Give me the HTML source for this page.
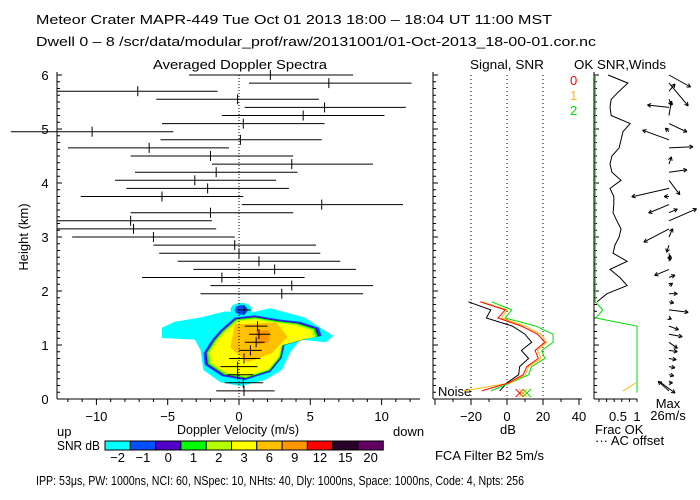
<!DOCTYPE html>
<html><head><meta charset="utf-8"><style>
html,body{margin:0;padding:0;background:#fff}
svg{display:block;font-family:"Liberation Sans",sans-serif}
text{font-size:13px;fill:#000}
</style></head><body>
<svg id="chart" width="700" height="500" viewBox="0 0 700 500" xmlns="http://www.w3.org/2000/svg">
<rect width="700" height="500" fill="#fff"/>
<text x="36" y="24" textLength="516" lengthAdjust="spacingAndGlyphs">Meteor Crater   MAPR-449   Tue Oct 01 2013 18:00 – 18:04 UT 11:00 MST</text>
<text x="36" y="46" textLength="560" lengthAdjust="spacingAndGlyphs">Dwell   0  –   8    /scr/data/modular_prof/raw/20131001/01-Oct-2013_18-00-01.cor.nc</text>
<text x="153" y="69" textLength="174" lengthAdjust="spacingAndGlyphs">Averaged Doppler Spectra</text>
<text x="470" y="69" textLength="74" lengthAdjust="spacingAndGlyphs">Signal, SNR</text>
<text x="574" y="69" textLength="92" lengthAdjust="spacingAndGlyphs">OK SNR,Winds</text>
<text x="28" y="237" transform="rotate(-90 28 237)" text-anchor="middle">Height (km)</text>
<text x="238" y="434" text-anchor="middle" textLength="122" lengthAdjust="spacingAndGlyphs">Doppler Velocity (m/s)</text>
<text x="57" y="436">up</text>
<text x="393" y="436">down</text>
<text x="57" y="450" textLength="43" lengthAdjust="spacingAndGlyphs">SNR dB</text>
<text x="508" y="434" text-anchor="middle">dB</text>
<text x="438" y="396">Noise</text>
<text x="595" y="434">Frac OK</text>
<text x="595" y="445">··· AC offset</text>
<text x="668" y="408" text-anchor="middle">Max</text>
<text x="668" y="420" text-anchor="middle">26m/s</text>
<text x="435" y="460" textLength="109" lengthAdjust="spacingAndGlyphs">FCA Filter B2   5m/s</text>
<text x="36" y="485" textLength="488" lengthAdjust="spacingAndGlyphs">IPP:  53μs,  PW: 1000ns,  NCI:  60,  NSpec: 10, NHts: 40,  Dly: 1000ns,  Space: 1000ns,  Code: 4,  Npts: 256</text>
<text x="570" y="85" style="fill:#f00">0</text>
<text x="570" y="100" style="fill:#ffbe00">1</text>
<text x="570" y="115" style="fill:#0d0">2</text>
<g id="g"></g>
</svg>
<script>
// ---- data ----
const spLeft  = [-1.6,-1.0,-0.8,-1.3,-0.7,0,0.4,0.7,0.4,null,-0.1,null,-2.7,-2.0,-6.8,-3.2,-4.3,-5.6,-6.0,-11.7,-12.8,-12.8,-7.6,0.2,-11.1,-7.9,-8.7,-7.3,-1.9,-7.6,-12.0,-5.5,-16.0,-5.4,-1.2,0.4,-5.8,-12.8,0.7,-3.5];
const spRight = [2.5,1.7,1.0,1.3,1.5,1.6,1.8,2.2,2.0,null,0.8,null,8.7,9.4,4.6,8.2,7.1,5.7,5.4,-0.3,-1.6,-1.9,3.8,11.5,0.3,3.5,2.6,4.1,9.4,3.8,-0.7,5.8,-4.6,6.0,10.2,11.7,5.6,-1.5,12.1,8.0];
const spMean  = [0.35,0.3,-0.1,-0.1,0.35,0.8,1.2,1.4,1.3,null,0.35,null,3.0,3.7,-1.2,2.5,1.4,0,-0.3,-6.0,-7.4,-7.6,-2.0,5.8,-5.4,-2.2,-3.1,-1.6,3.7,-2.0,-6.3,0.1,-10.3,0.3,4.5,6.0,-0.1,-7.1,6.3,2.2];
const sigBlack  = [-4,0,6.5,7,12,8,13.7,10,3,-11.5,-9,-21.5];
const sigRed    = [-14,1,9,11,17.4,15.6,21,17,8,-5,-1,-15];
const sigOrange = [-24,2,10,12,19,17,22,19,10,-3,0,-14];
const sigGreen  = [-9,2,12,13.7,21,19.3,25.6,25.6,16,-1,2.6,-8.5];
const noiseDb = [7,9,11];
const okSnr = [null,null,null,null,null,null,null,null,null,null,null,-0.05,0.21,0.74,0.55,0.29,0.74,0.37,0.42,0.53,0.58,0.47,0.37,0.39,0.39,0.29,0.58,0.34,0.29,0.34,0.53,0.58,0.63,0.82,0.32,0.29,0.32,0.53,0.76,0.24];
const fracOk = [1,1,1,1,1,1,1,1,1,-0.08,0.1,-0.1,-0.1,-0.1,-0.1,-0.1,-0.1,-0.1,-0.1,-0.1,-0.1,-0.1,-0.1,-0.1,-0.1,-0.1,-0.1,-0.1,-0.1,-0.1,-0.1,-0.1,-0.1,-0.1,-0.1,-0.1,-0.1,-0.1,-0.1,-0.1];
const fracAc = [0.63,0.97];
const windU = [-9,3,4,5,6,7,7,11,8,2,16,4,7,3,5,-12,1,1,-2,3,-21,23,7,-17,-4,-31,9,15,2,0,20,-22,-3,15,2,-18,2,5,16,18];
const windV = [8,0,-1,-1,-1,-1,-5,-2,-3,-1,-2,-1,0,2,2,-5,5,-6,-6,7,-11,10,3,-7,0,-7,-12,2,6,0,1,8,3,-7,12,2,-5,6,-19,-10];
const cyanPoly = [[-5.4,1.32],[-4.5,1.43],[-2.7,1.51],[-1.0,1.62],[0.8,1.6],[2.2,1.68],[3.6,1.58],[4.6,1.51],[5.7,1.32],[6.6,1.17],[6.1,1.05],[4.3,1.1],[3.6,0.87],[3.0,0.54],[1.8,0.35],[0.1,0.24],[-1.3,0.31],[-2.5,0.54],[-2.7,0.91],[-3.1,1.1],[-5.4,1.13]];
const innerPoly = [[-1.3,1.28],[-0.3,1.51],[1.1,1.55],[2.9,1.47],[4.3,1.43],[5.6,1.32],[5.8,1.17],[5.0,1.13],[3.2,1.0],[3.0,0.76],[2.2,0.5],[0.4,0.35],[-1.2,0.42],[-2.4,0.63],[-2.5,0.85],[-1.9,1.1]];
const innerScales = [1.0,0.97,0.94,0.91,0.87];
const orange6Poly = [[-0.3,1.38],[2.6,1.42],[3.4,1.15],[2.3,0.85],[0.6,0.68],[-0.6,0.95]];
const orange9Poly = [[1.2,1.27],[2.1,1.27],[2.1,1.05],[1.2,1.0]];
const cbLabels = ["-2","-1","0","1","2","3","6","9","12","15","20"];
const cbColors = ["#00ffff","#0050ff","#5000c8","#00ff00","#b4ff00","#ffff00","#ffc000","#ff9600","#ff0000","#280028","#640064"];
const vTicks = [-10,-5,0,5,10];
const hTicks = [0,1,2,3,4,5,6];
const dbTicks = [-20,0,20,40];
const fTicks = ["0.5","1"];

// ---- scales ----
const X=v=>239+14.26*v, Y=h=>399-54*h, HK=k=>0.15*(k+1), DB=d=>507+1.8*d, F=f=>599+38*f;
const NS="http://www.w3.org/2000/svg", G=document.getElementById('g');
function mk(t,a,name){const e=document.createElementNS(NS,t);for(const k in a)e.setAttribute(k,a[k]);


G.appendChild(e);return e;}
function ln(x1,y1,x2,y2,name,st){return mk('line',Object.assign({x1,y1,x2,y2,stroke:'#000','stroke-width':1},st||{}),name);}
function tx(x,y,s,name,anchor){const e=mk('text',{x,y,'text-anchor':anchor||'middle'},name);e.textContent=s;return e;}
function poly(pts,fill,name){return mk('polygon',{points:pts.map(p=>X(p[0])+','+Y(p[1])).join(' '),fill},name);}

poly(cyanPoly,cbColors[0],'snr-contour-cyan');
mk('ellipse',{cx:X(0.15),cy:Y(1.65),rx:14.26*0.75,ry:54*0.13,fill:cbColors[0]},'snr-blob-cyan');
mk('ellipse',{cx:X(0.15),cy:Y(1.65),rx:14.26*0.45,ry:54*0.09,fill:cbColors[1]},'snr-blob-blue');
innerScales.forEach((s,i)=>{poly(innerPoly.map(p=>[1.2+(p[0]-1.2)*s,0.95+(p[1]-0.95)*s]),cbColors[i+1],'snr-contour-'+i);});
poly(orange6Poly,cbColors[6],'snr-contour-6db');
poly(orange9Poly,cbColors[7],'snr-contour-9db');

ln(X(0),75,X(0),399,'zero-velocity-line',{'stroke-dasharray':'1,2'});
for(let k=0;k<spLeft.length;k++){if(spLeft[k]===null)continue;const y=Y(HK(k));
ln(X(spLeft[k]),y,X(spRight[k]),y,'spectrum-width-bar');
ln(X(spMean[k]),y-5,X(spMean[k]),y+5,'spectrum-mean-tick');}

ln(57,72,57,399,'y-axis');ln(57,399,420,399,'x-axis');
for(let h=0;h<=6.01;h+=0.125){const maj=Math.abs(h-Math.round(h))<0.01;ln(57,Y(h),maj?62:60,Y(h),'y-tick');}
hTicks.forEach(h=>tx(45,Y(h)+5,String(h),'y-tick-label'));
for(let v=-12;v<=12;v++){const maj=v%5===0;ln(X(v),399,X(v),maj?405:402,'x-tick');}
vTicks.forEach(v=>tx(X(v),421,v<0?'−'+(-v):String(v),'x-tick-label'));

ln(433,72,433,399,'signal-y-axis');ln(433,399,582,399,'signal-x-axis');
for(let h=0;h<=6.01;h+=0.125){const maj=Math.abs(h-Math.round(h))<0.01;ln(433,Y(h),maj?438:436,Y(h),'signal-y-tick');}
for(let d=-40;d<=40;d+=10){ln(DB(d),399,DB(d),d%20===0?405:402,'signal-x-tick');}
[-20,0,20].forEach(d=>ln(DB(d),75,DB(d),399,'signal-grid-line',{'stroke-dasharray':'1,3'}));
dbTicks.forEach(d=>tx(DB(d),421,d<0?'−'+(-d):String(d),'signal-tick-label'));
function sline(arr,col,name){mk('polyline',{points:arr.map((d,k)=>DB(d)+','+Y(HK(k))).join(' '),fill:'none',stroke:col,'stroke-width':1},name);}
sline(sigBlack,'#000','signal-line');sline(sigGreen,'#00dd00','snr-line-2');sline(sigOrange,'#ffbe00','snr-line-1');sline(sigRed,'#ff0000','snr-line-0');
const xcol=['#ff0000','#ffbe00','#00dd00'];
noiseDb.forEach((d,i)=>{const x=DB(d),y=Y(0.11);ln(x-4,y-4,x+4,y+4,'noise-marker',{stroke:xcol[i]});ln(x-4,y+4,x+4,y-4,'noise-marker',{stroke:xcol[i]});});

ln(594,72,594,399,'ok-y-axis');ln(594,399,637,399,'ok-x-axis');
for(let h=0;h<=6.01;h+=0.125){const maj=Math.abs(h-Math.round(h))<0.01;ln(594,Y(h),maj?599:597,Y(h),'ok-y-tick');}
for(let f=0;f<=1.01;f+=0.2){ln(F(f),399,F(f),402,'ok-x-tick');}
tx(F(0.5),421,fTicks[0],'ok-tick-label');tx(F(1),421,fTicks[1],'ok-tick-label');
const okPts=[];okSnr.forEach((f,k)=>{if(f!==null)okPts.push(F(f)+','+Y(HK(k)));});
mk('polyline',{points:okPts.join(' '),fill:'none',stroke:'#000'},'ok-snr-line');
const fp=[F(fracOk[fracOk.length-1])+','+75];for(let k=fracOk.length-1;k>=0;k--)fp.push(F(fracOk[k])+','+Y(HK(k)));fp.push(F(fracOk[0])+','+Y(0.12));
mk('polyline',{points:fp.join(' '),fill:'none',stroke:'#00dd00'},'frac-ok-line');
mk('polyline',{points:fracAc.map((f,k)=>F(f)+','+Y(HK(k))).join(' '),fill:'none',stroke:'#ffbe00'},'ac-offset-line');

function arrow(x0,y0,dx,dy,name){const x1=x0+dx,y1=y0+dy;ln(x0,y0,x1,y1,name);const L=Math.hypot(dx,dy);if(L<2)return;
const ux=dx/L,uy=dy/L,a=0.5;[a,-a].forEach(t=>{const c=Math.cos(t),s=Math.sin(t);ln(x1,y1,x1-4*(ux*c-uy*s),y1-4*(ux*s+uy*c),name+'-head');});}
for(let k=0;k<windU.length;k++){arrow(669,Y(HK(k)),windU[k]*1.2,-windV[k]*1.2,'wind-barb');}
arrow(660,382,15,11,'max-wind-sample');

cbColors.forEach((c,i)=>{mk('rect',{x:105+i*25.3,y:441,width:25.3,height:9,fill:c,stroke:'#000','stroke-width':1},'colorbar-cell');
tx(105+i*25.3+12.6,462,cbLabels[i].replace('-','−'),'colorbar-label');});
</script>
</body></html>
